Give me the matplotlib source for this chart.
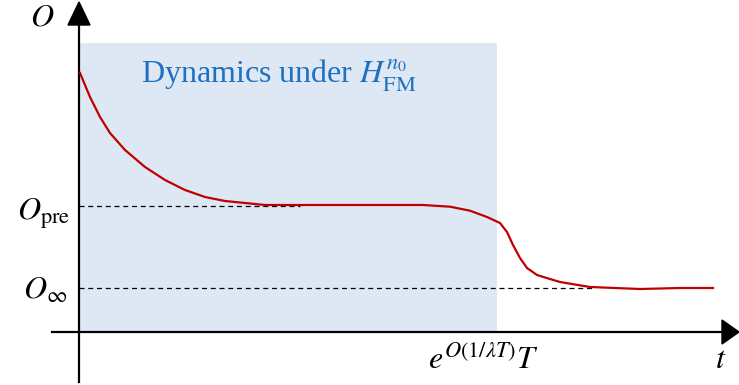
import matplotlib.pyplot as plt
import numpy as np
from matplotlib.patches import Rectangle

plt.rcParams['mathtext.fontset'] = 'stix'
plt.rcParams['font.family'] = ['Liberation Serif', 'DejaVu Serif']

# observable O(t): relaxation to the prethermal plateau, then to O_inf
t_pts = np.array([0.01, 0.11, 0.21, 0.31, 0.46, 0.66, 0.86, 1.06, 1.26, 1.46,
                  1.66, 1.86, 2.13, 2.71, 3.44, 3.71, 3.91, 4.08, 4.21, 4.28,
                  4.34, 4.41, 4.48, 4.58, 4.71, 4.81, 5.11, 5.61, 6.01, 6.34])
O_pts = np.array([2.59, 2.35, 2.15, 1.99, 1.82, 1.65, 1.52, 1.42, 1.35, 1.31,
                  1.29, 1.27, 1.27, 1.27, 1.27, 1.253, 1.213, 1.15, 1.09, 1.00,
                  0.87, 0.74, 0.64, 0.57, 0.53, 0.50, 0.45, 0.43, 0.44, 0.44])

O_pre = 1.265
O_inf = 0.44
t_star = 4.18      # end of the prethermal window, e^{O(1/lambda T)} T
O_box_top = 2.89
pre_dash_end = 2.21
inf_dash_end = 5.14

fig = plt.figure(figsize=(7.39, 3.85), dpi=100)
ax = fig.add_axes([0, 0, 1, 1])
ax.set_xlim(-0.79, 6.60)
ax.set_ylim(-0.53, 3.32)
ax.axis('off')

# shaded prethermal region
ax.add_patch(Rectangle((0, 0), t_star, O_box_top, facecolor='#dee8f4',
                       edgecolor='none', zorder=0))
ax.text(2.0, 2.56, r'Dynamics under $H_{\mathrm{FM}}^{n_0}$',
        color='#1f70c0', fontsize=23, ha='center', va='center')

# axes with arrow heads
ax.plot([0, 0], [-0.5, 3.07], color='black', lw=1.6, zorder=3)
ax.plot([-0.27, 6.45], [0, 0], color='black', lw=1.6, zorder=3)
ax.fill([-0.11, 0.11, 0.0], [3.07, 3.07, 3.30], color='black', zorder=3)
ax.fill([6.43, 6.43, 6.60], [0.12, -0.12, 0.0], color='black', zorder=3)

# plateau reference lines
ax.plot([0, pre_dash_end], [O_pre, O_pre], color='black', lw=0.9,
        ls=(0, (4, 3)), zorder=2)
ax.plot([0, inf_dash_end], [O_inf, O_inf], color='black', lw=0.9,
        ls=(0, (4, 3)), zorder=2)

ax.plot(t_pts, O_pts, color='#c00000', lw=1.6, zorder=4,
        solid_joinstyle='round')

ax.text(-0.37, 3.14, r'$O$', fontsize=23, ha='center', va='center')
ax.text(-0.09, O_pre - 0.08, r'$O_{\mathrm{pre}}$', fontsize=23,
        ha='right', va='center')
ax.text(-0.12, O_inf - 0.03, r'$O_{\infty}$', fontsize=23,
        ha='right', va='center')
ax.text(t_star - 0.13, -0.28, r'$e^{O(1/\lambda T)}T$', fontsize=23,
        ha='center', va='center')
ax.text(6.42, -0.28, r'$t$', fontsize=23, ha='center', va='center')

fig.savefig('out.png', dpi=100)
